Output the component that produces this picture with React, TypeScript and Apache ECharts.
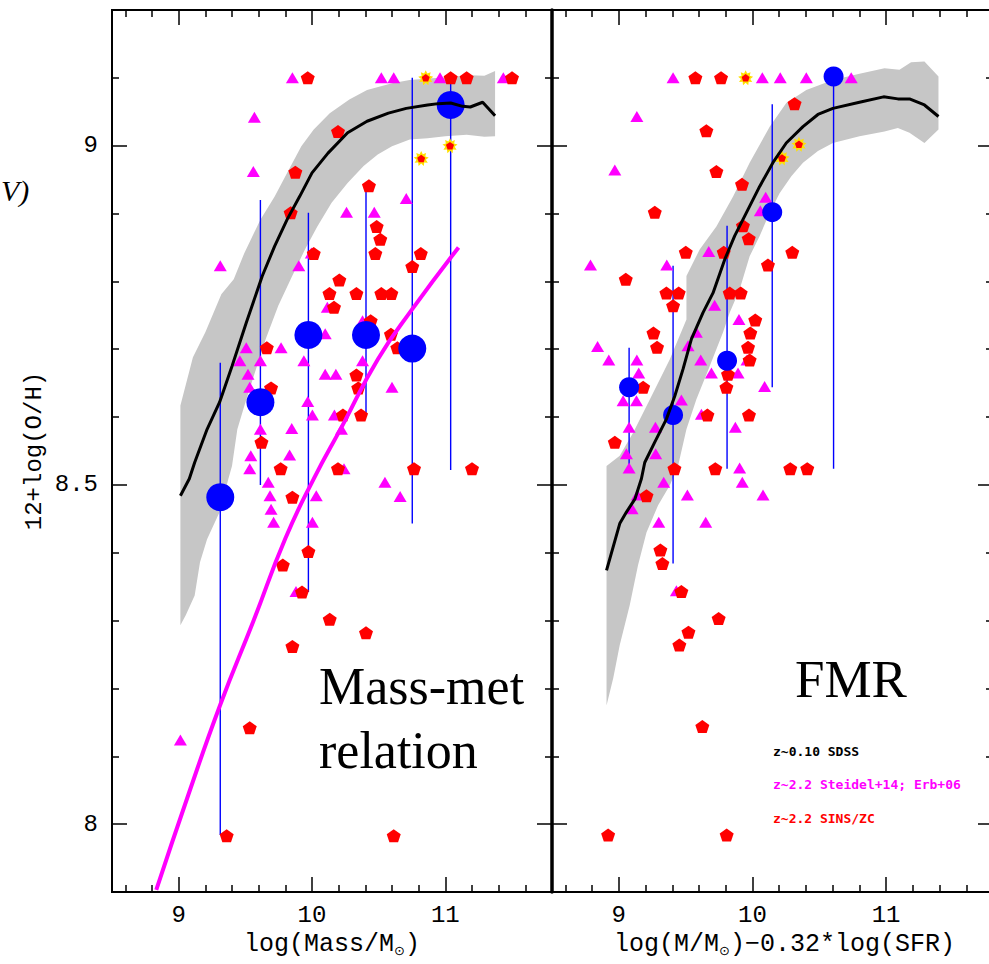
import React, { useEffect, useRef } from "react";
import * as echarts from "echarts";

// ---------- axis ranges & ticks ----------
const X_MIN = 8.5;
const X_MAX = 11.8;
const Y_MIN = 7.9;
const Y_MAX = 9.2;
const xMajorTicks = [9, 10, 11];
const xMinorTicks = [8.6, 8.8, 9.2, 9.4, 9.6, 9.8, 10.2, 10.4, 10.6, 10.8, 11.2, 11.4, 11.6];
const yMajorTicks = [8, 8.5, 9];
const yMinorTicks = [8.1, 8.2, 8.3, 8.4, 8.6, 8.7, 8.8, 8.9, 9.1];

// ---------- left panel: mass-metallicity relation ----------
const mzSdssLine = [
  [9.013, 8.484], [9.08, 8.509], [9.12, 8.533], [9.213, 8.582], [9.307, 8.622], [9.4, 8.675],
  [9.507, 8.739], [9.627, 8.808], [9.72, 8.852], [9.813, 8.891], [9.907, 8.925], [10.0, 8.96],
  [10.12, 8.989], [10.267, 9.019], [10.413, 9.036], [10.573, 9.048], [10.707, 9.055], [10.867, 9.06],
  [10.947, 9.062], [11.04, 9.063], [11.13, 9.058], [11.187, 9.057], [11.28, 9.064], [11.373, 9.044],
];
const mzSdssBandUpper = [
  [9.013, 8.293], [9.013, 8.617], [9.107, 8.688], [9.2, 8.725], [9.32, 8.781], [9.413, 8.803],
  [9.493, 8.842], [9.613, 8.891], [9.72, 8.925], [9.827, 8.965], [9.92, 8.999], [10.013, 9.024],
  [10.133, 9.048], [10.28, 9.068], [10.413, 9.082], [10.6, 9.092], [10.733, 9.097], [11.0, 9.101],
  [11.187, 9.104], [11.293, 9.103], [11.373, 9.11],
];
const mzSdssBandLower = [
  [11.373, 9.014], [11.293, 9.013], [11.16, 9.016], [11.0, 9.014], [10.867, 9.011], [10.733, 9.009],
  [10.6, 8.999], [10.493, 8.987], [10.387, 8.97], [10.267, 8.945], [10.147, 8.916], [10.04, 8.881],
  [9.947, 8.847], [9.84, 8.803], [9.747, 8.764], [9.653, 8.715], [9.587, 8.675], [9.507, 8.626],
  [9.44, 8.582], [9.4, 8.528], [9.373, 8.509], [9.307, 8.46], [9.213, 8.42], [9.16, 8.386],
  [9.12, 8.337], [9.053, 8.308],
];
const mzFitCurve = [
  [8.832, 7.903], [9.072, 8.043], [9.312, 8.176], [9.56, 8.299], [9.8, 8.421], [10.013, 8.509],
  [10.227, 8.587], [10.493, 8.685], [10.752, 8.759], [11.099, 8.85],
];
const mzSteidelErb = [
  [9.853, 9.1], [10.52, 9.1], [10.613, 9.1], [10.96, 9.1], [11.435, 9.1],
  [9.568, 9.042], [9.56, 8.962], [9.312, 8.823], [9.901, 8.823], [9.995, 8.842], [10.259, 8.902],
  [10.467, 8.902], [10.707, 8.922], [10.115, 8.762], [10.099, 8.723], [10.379, 8.742], [9.507, 8.702],
  [9.768, 8.702], [9.459, 8.683], [9.613, 8.683], [9.939, 8.683], [10.379, 8.683], [9.52, 8.663],
  [10.099, 8.663], [10.179, 8.663], [9.533, 8.644], [10.6, 8.644], [9.968, 8.623], [10.003, 8.603],
  [10.168, 8.603], [9.613, 8.582], [9.848, 8.583], [10.221, 8.582], [9.541, 8.543], [9.832, 8.544],
  [9.533, 8.524], [10.24, 8.524], [9.672, 8.504], [10.547, 8.504], [9.685, 8.484], [10.032, 8.484],
  [10.661, 8.483], [9.693, 8.464], [9.712, 8.445], [10.003, 8.445], [9.88, 8.343], [9.013, 8.124],
];
const mzSinsZc = [
  [9.968, 9.1], [11.04, 9.1], [11.16, 9.1], [11.5, 9.1],
  [10.195, 9.021], [9.875, 8.961], [9.84, 8.901], [10.427, 8.941], [10.485, 8.881], [10.512, 8.862],
  [10.475, 8.841], [10.816, 8.841], [10.013, 8.841], [10.752, 8.822], [10.205, 8.802], [10.131, 8.782],
  [10.333, 8.782], [10.52, 8.782], [10.595, 8.782], [10.165, 8.762], [10.44, 8.742], [10.592, 8.722],
  [10.64, 8.702], [9.661, 8.702], [10.333, 8.662], [10.347, 8.643], [9.693, 8.643], [10.232, 8.603],
  [10.368, 8.603], [9.621, 8.563], [9.765, 8.524], [10.195, 8.524], [10.765, 8.524], [11.2, 8.524],
  [9.853, 8.482], [9.973, 8.402], [9.781, 8.382], [9.925, 8.342], [10.133, 8.302], [10.405, 8.282],
  [9.853, 8.262], [9.533, 8.142], [9.36, 7.983], [10.613, 7.983],
];
const mzSinsZcStars = [[10.853, 9.1], [11.035, 9.0], [10.819, 8.981]];
const mzBinMedians = [
  [9.312, 8.482], [9.613, 8.622], [9.973, 8.721], [10.405, 8.721], [10.752, 8.701], [11.04, 9.06],
];
const mzBinRanges = [
  [9.312, 7.984, 8.68], [9.613, 8.5, 8.92], [9.973, 8.342, 8.901], [10.405, 8.602, 8.94],
  [10.752, 8.443, 9.1], [11.04, 8.522, 9.1],
];

// ---------- right panel: fundamental metallicity relation ----------
const fmrSdssLine = [
  [8.908, 8.374], [9.007, 8.443], [9.057, 8.46], [9.12, 8.479], [9.169, 8.509], [9.194, 8.533],
  [9.269, 8.563], [9.356, 8.597], [9.419, 8.631], [9.481, 8.671], [9.543, 8.715], [9.63, 8.754],
  [9.705, 8.783], [9.792, 8.832], [9.867, 8.867], [9.954, 8.901], [10.054, 8.94], [10.153, 8.975],
  [10.253, 9.004], [10.378, 9.028], [10.49, 9.046], [10.602, 9.055], [10.801, 9.064], [10.981, 9.072],
  [11.088, 9.069], [11.175, 9.069], [11.287, 9.06], [11.392, 9.043],
];
const fmrSdssBandUpper = [
  [8.908, 8.175], [8.908, 8.528], [9.007, 8.543], [9.107, 8.577], [9.232, 8.626], [9.381, 8.685],
  [9.506, 8.744], [9.506, 8.808], [9.605, 8.847], [9.73, 8.881], [9.855, 8.925], [9.979, 8.975],
  [10.129, 9.028], [10.253, 9.063], [10.403, 9.082], [10.602, 9.097], [10.801, 9.106], [10.988, 9.114],
  [11.1, 9.112], [11.187, 9.123], [11.287, 9.124], [11.392, 9.102],
];
const fmrSdssBandLower = [
  [11.392, 9.024], [11.287, 9.004], [11.175, 9.019], [11.088, 9.026], [10.988, 9.021], [10.801, 9.014],
  [10.602, 9.004], [10.49, 8.992], [10.378, 8.975], [10.291, 8.955], [10.203, 8.93], [10.129, 8.901],
  [10.054, 8.867], [9.979, 8.837], [9.904, 8.788], [9.83, 8.754], [9.78, 8.725], [9.68, 8.675],
  [9.58, 8.626], [9.506, 8.582], [9.443, 8.528], [9.381, 8.499], [9.294, 8.47], [9.207, 8.43],
  [9.144, 8.382], [9.082, 8.323], [9.007, 8.264], [8.958, 8.215],
];
const fmrSteidelErb = [
  [9.406, 9.1], [10.074, 9.1], [10.208, 9.1], [10.403, 9.1], [10.739, 9.1], [9.135, 9.043],
  [8.97, 8.964], [8.788, 8.824], [9.359, 8.824], [9.673, 8.844], [10.099, 8.924], [10.059, 8.904],
  [9.717, 8.765], [9.899, 8.744], [9.58, 8.725], [9.518, 8.705], [8.841, 8.704], [8.925, 8.684],
  [9.135, 8.684], [9.613, 8.684], [9.959, 8.684], [9.149, 8.665], [9.693, 8.665], [9.892, 8.665],
  [10.091, 8.645], [9.032, 8.624], [9.132, 8.624], [9.468, 8.625], [9.618, 8.604], [9.077, 8.585],
  [9.274, 8.585], [9.872, 8.585], [9.057, 8.546], [9.276, 8.546], [9.077, 8.525], [9.904, 8.525],
  [9.336, 8.504], [9.924, 8.504], [9.139, 8.485], [9.513, 8.485], [10.079, 8.485], [9.099, 8.465],
  [9.299, 8.445], [9.65, 8.445], [9.431, 8.344],
];
const fmrSinsZc = [
  [9.573, 9.1], [9.765, 9.1], [10.315, 9.062], [9.655, 9.022], [9.73, 8.962], [9.922, 8.943],
  [9.269, 8.902], [9.929, 8.882], [9.972, 8.863], [9.501, 8.843], [9.785, 8.843], [10.298, 8.843],
  [10.116, 8.824], [9.052, 8.803], [9.356, 8.783], [9.448, 8.783], [9.83, 8.783], [9.912, 8.783],
  [9.406, 8.764], [10.021, 8.743], [9.259, 8.724], [9.984, 8.724], [9.286, 8.703], [9.967, 8.703],
  [9.979, 8.684], [9.817, 8.663], [9.805, 8.644], [9.182, 8.644], [9.663, 8.603], [9.974, 8.603],
  [8.97, 8.563], [9.416, 8.524], [9.722, 8.524], [10.283, 8.524], [10.41, 8.524], [9.207, 8.484],
  [9.311, 8.404], [9.326, 8.384], [9.468, 8.343], [9.747, 8.303], [9.521, 8.283], [9.453, 8.264],
  [9.625, 8.144], [8.92, 7.984], [9.807, 7.984],
];
const fmrSinsZcStars = [[9.949, 9.1], [10.348, 9.002], [10.221, 8.982]];
const fmrBinMedians = [
  [9.077, 8.644], [9.406, 8.603], [9.81, 8.683], [10.148, 8.902], [10.607, 9.102],
];
const fmrBinRanges = [
  [9.077, 8.524, 8.702], [9.406, 8.384, 8.823], [9.81, 8.524, 8.882], [10.148, 8.644, 9.061],
  [10.607, 8.524, 9.102],
];

// ---------- texts ----------
const legendLabels = ["z~0.10 SDSS", "z~2.2 Steidel+14; Erb+06", "z~2.2 SINS/ZC"];
const legendColors = ["#000000", "#ff00ff", "#ff0000"];

const PENTAGON = "path://M0,-1L0.951,-0.309L0.588,0.809L-0.588,0.809L-0.951,-0.309Z";
function starPath(n: number, rOut: number, rIn: number) {
  let d = "";
  for (let i = 0; i < 2 * n; i++) {
    const r = i % 2 === 0 ? rOut : rIn;
    const a = (Math.PI * i) / n - Math.PI / 2;
    d += (i === 0 ? "M" : "L") + (r * Math.cos(a)).toFixed(3) + "," + (r * Math.sin(a)).toFixed(3);
  }
  return "path://" + d + "Z";
}
const STAR = starPath(9, 1, 0.62);

const MONO = '"Liberation Mono", "Courier New", monospace';
const TICK_COLOR = "#000";

function xAxesFor(grid: number, name: string, namePad: number) {
  const base = {
    type: "value",
    gridIndex: grid,
    min: X_MIN,
    max: X_MAX,
    axisLine: { show: false },
    splitLine: { show: false },
  };
  const tick = (vals: number[], len: number) => ({
    show: true,
    inside: true,
    length: len,
    customValues: vals,
    lineStyle: { color: TICK_COLOR, width: 1.5 },
  });
  return [
    {
      ...base,
      position: "bottom",
      axisTick: tick(xMajorTicks, 15),
      axisLabel: {
        show: true,
        customValues: xMajorTicks,
        margin: 11,
        color: "#000",
        fontFamily: MONO,
        fontSize: 24,
      },
      name,
      nameLocation: "middle",
      nameGap: 40,
      nameTextStyle: {
        color: "#000",
        fontFamily: MONO,
        fontSize: 25,
        padding: [0, 0, 0, namePad],
        rich: {
          sub: { fontSize: 13, fontFamily: '"DejaVu Sans"', color: "#000", padding: [12, 0, 0, 0] },
        },
      },
    },
    { ...base, position: "bottom", axisTick: tick(xMinorTicks, 7), axisLabel: { show: false } },
    { ...base, position: "top", axisTick: tick(xMajorTicks, 15), axisLabel: { show: false } },
    { ...base, position: "top", axisTick: tick(xMinorTicks, 7), axisLabel: { show: false } },
  ];
}

function yAxesFor(grid: number, withLabels: boolean, thickLeft: boolean) {
  const base = {
    type: "value",
    gridIndex: grid,
    min: Y_MIN,
    max: Y_MAX,
    axisLine: { show: false },
    splitLine: { show: false },
  };
  const tick = (vals: number[], len: number) => ({
    show: true,
    inside: true,
    length: len,
    customValues: vals,
    lineStyle: { color: TICK_COLOR, width: 1.5 },
  });
  return [
    {
      ...base,
      position: "left",
      axisLine: thickLeft
        ? { show: true, onZero: false, lineStyle: { color: "#000", width: 3.5 } }
        : { show: false },
      axisTick: tick(yMajorTicks, 15),
      axisLabel: withLabels
        ? {
            show: true,
            customValues: yMajorTicks,
            margin: 14,
            color: "#000",
            fontFamily: MONO,
            fontSize: 24,
          }
        : { show: false },
      name: withLabels ? "12+log(O/H)" : "",
      nameLocation: "middle",
      nameGap: 66,
      nameTextStyle: { color: "#000", fontFamily: MONO, fontSize: 24 },
    },
    { ...base, position: "left", axisTick: tick(yMinorTicks, 7), axisLabel: { show: false } },
    { ...base, position: "right", axisTick: tick(yMajorTicks, 15), axisLabel: { show: false } },
    { ...base, position: "right", axisTick: tick(yMinorTicks, 7), axisLabel: { show: false } },
  ];
}

function panelSeries(
  axisIdx: number,
  bandUpper: number[][],
  bandLower: number[][],
  sdssLine: number[][],
  triangles: number[][],
  pentagons: number[][],
  stars: number[][],
  ranges: number[][],
  medians: number[][],
  medianSize: number,
  fitCurve: number[][] | null
) {
  const band = bandUpper.concat(bandLower);
  const ax = { xAxisIndex: axisIdx, yAxisIndex: axisIdx };
  const list: any[] = [
    {
      ...ax,
      type: "custom",
      silent: true,
      data: [band[0]],
      renderItem: (_p: any, api: any) => ({
        type: "polygon",
        shape: { points: band.map((pt) => api.coord(pt)) },
        style: { fill: "#c6c6c6" },
      }),
    },
    {
      ...ax,
      type: "line",
      data: sdssLine,
      showSymbol: false,
      lineStyle: { color: "#000", width: 3 },
      silent: true,
    },
  ];
  if (fitCurve) {
    list.push({
      ...ax,
      type: "line",
      data: fitCurve,
      smooth: true,
      showSymbol: false,
      lineStyle: { color: "#ff00ff", width: 4 },
      silent: true,
    });
  }
  list.push(
    {
      ...ax,
      type: "scatter",
      data: triangles,
      symbol: "triangle",
      symbolSize: [13, 11],
      itemStyle: { color: "#ff00ff", opacity: 1 },
    },
    {
      ...ax,
      type: "scatter",
      data: pentagons,
      symbol: PENTAGON,
      symbolSize: [14, 13],
      itemStyle: { color: "#ff0000", opacity: 1 },
    },
    {
      ...ax,
      type: "scatter",
      data: stars,
      symbol: STAR,
      symbolSize: 15,
      itemStyle: { color: "#ffe000", opacity: 1 },
    },
    {
      ...ax,
      type: "scatter",
      data: stars,
      symbol: PENTAGON,
      symbolSize: [8, 7.5],
      itemStyle: { color: "#ff0000", opacity: 1 },
    },
    {
      ...ax,
      type: "custom",
      silent: true,
      data: ranges,
      encode: { x: 0, y: [1, 2] },
      renderItem: (_p: any, api: any) => {
        const x = api.value(0);
        const p1 = api.coord([x, api.value(1)]);
        const p2 = api.coord([x, api.value(2)]);
        return {
          type: "line",
          shape: { x1: p1[0], y1: p1[1], x2: p2[0], y2: p2[1] },
          style: { stroke: "#0000ff", lineWidth: 1.4 },
        };
      },
    },
    {
      ...ax,
      type: "scatter",
      data: medians,
      symbol: "circle",
      symbolSize: medianSize,
      itemStyle: { color: "#0000ff", opacity: 1 },
    }
  );
  return list;
}

export default function App() {
  const ref = useRef<HTMLDivElement>(null);
  useEffect(() => {
    if (!ref.current) return;
    const chart = echarts.init(ref.current, undefined, { renderer: "svg" });
    const option: any = {
      animation: false,
      backgroundColor: "#ffffff",
      grid: [
        { left: 112, top: 10, width: 440, height: 882, show: true, borderColor: "#000", borderWidth: 2, backgroundColor: "transparent" },
        { left: 552, top: 10, width: 441, height: 882, show: true, borderColor: "#000", borderWidth: 2, backgroundColor: "transparent" },
      ],
      xAxis: [
        ...xAxesFor(0, "log(Mass/M{sub|⊙})", 0),
        ...xAxesFor(1, "log(M/M{sub|⊙})\u22120.32*log(SFR)", 24),
      ],
      yAxis: [...yAxesFor(0, true, false), ...yAxesFor(1, false, true)],
      series: [
        ...panelSeries(0, mzSdssBandUpper, mzSdssBandLower, mzSdssLine, mzSteidelErb, mzSinsZc, mzSinsZcStars, mzBinRanges, mzBinMedians, 28, mzFitCurve),
        ...panelSeries(4, fmrSdssBandUpper, fmrSdssBandLower, fmrSdssLine, fmrSteidelErb, fmrSinsZc, fmrSinsZcStars, fmrBinRanges, fmrBinMedians, 20, null),
      ],
      graphic: [
        {
          type: "text",
          x: 319,
          y: 686,
          style: { text: "Mass-met", fill: "#000", font: '52px "Liberation Serif"', verticalAlign: "middle", align: "left" },
        },
        {
          type: "text",
          x: 319,
          y: 750,
          style: { text: "relation", fill: "#000", font: '52px "Liberation Serif"', verticalAlign: "middle", align: "left" },
        },
        {
          type: "text",
          x: 795,
          y: 679,
          style: { text: "FMR", fill: "#000", font: '53px "Liberation Serif"', verticalAlign: "middle", align: "left" },
        },
        ...legendLabels.map((t, i) => ({
          type: "text",
          x: 773,
          y: 751 + i * 33.5,
          style: { text: t, fill: legendColors[i], font: 'bold 13px "DejaVu Sans Mono"', verticalAlign: "middle", align: "left" },
        })),
        {
          type: "text",
          x: 1,
          y: 190,
          style: { text: "V)", fill: "#000", font: 'italic 30px "Liberation Serif"', verticalAlign: "middle", align: "left" },
        },
      ],
    };
    chart.setOption(option);
    return () => chart.dispose();
  }, []);
  return (
    <div style={{ position: "fixed", left: 0, top: 0, width: 989, height: 964, overflow: "hidden", background: "#fff" }}>
      <div ref={ref} style={{ width: 1000, height: 964 }} />
    </div>
  );
}
